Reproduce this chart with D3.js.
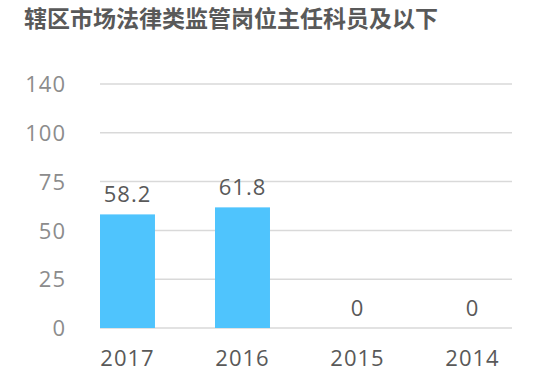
<!DOCTYPE html>
<html><head><meta charset="utf-8">
<script src="https://cdn.jsdelivr.net/npm/d3@7/dist/d3.min.js"></script>
<style>body{margin:0;background:#fff}svg{display:block}</style>
</head><body><svg id="c" width="536" height="383"></svg>
<script>
const title = "辖区市场法律类监管岗位主任科员及以下";
const categories = ["2017", "2016", "2015", "2014"];
const values = [58.2, 61.8, 0, 0];
const yTicks = [0, 25, 50, 75, 100, 140];

const svg = d3.select("#c");
const font = "'Open Sans', 'Noto Sans', sans-serif";
const y0 = 328, yTop = 84;
const y = d3.scaleLinear().domain(yTicks)
  .range(yTicks.map((d, i) => y0 - i * (y0 - yTop) / (yTicks.length - 1)));
const x = d3.scaleBand().domain(categories).range([100, 500]).paddingInner(0.522).paddingOuter(0);

svg.append("text").attr("x", 24).attr("y", 27).text(title)
  .attr("font-family", "'Noto Sans CJK SC', sans-serif").attr("font-weight", "bold")
  .attr("font-size", 23).attr("fill", "#595959");

const yAxis = d3.axisLeft(y).tickValues(yTicks).tickSize(0).tickPadding(0);
const gy = svg.append("g").attr("transform", "translate(66,0)").call(yAxis);
gy.select(".domain").remove();
gy.selectAll("text").attr("font-family", font).attr("font-size", 22).attr("fill", "#8c8c8c")
  .attr("letter-spacing", 1).attr("dy", "0.35em");

svg.append("g").selectAll("line").data(yTicks).join("line")
  .attr("x1", 100).attr("x2", 512).attr("y1", d => y(d)).attr("y2", d => y(d))
  .attr("stroke", "#d9d9d9").attr("stroke-width", 1.5);

svg.append("g").selectAll("rect").data(values).join("rect")
  .attr("x", (d, i) => x(categories[i])).attr("width", x.bandwidth())
  .attr("y", d => y(d)).attr("height", d => y(0) - y(d)).attr("fill", "#4fc4fd");

svg.append("g").selectAll("text").data(values).join("text")
  .attr("x", (d, i) => x(categories[i]) + x.bandwidth() / 2)
  .attr("y", d => y(d) - 12).attr("text-anchor", "middle")
  .attr("font-family", font).attr("font-size", 22).attr("letter-spacing", 1)
  .attr("fill", "#595959").text(d => d);

const xAxis = d3.axisBottom(x).tickSize(0).tickPadding(0);
const gx = svg.append("g").attr("transform", "translate(0,366)").call(xAxis);
gx.select(".domain").remove();
gx.selectAll("text").attr("font-family", font).attr("font-size", 22).attr("fill", "#595959")
  .attr("letter-spacing", 1).attr("dy", 0);
</script></body></html>
